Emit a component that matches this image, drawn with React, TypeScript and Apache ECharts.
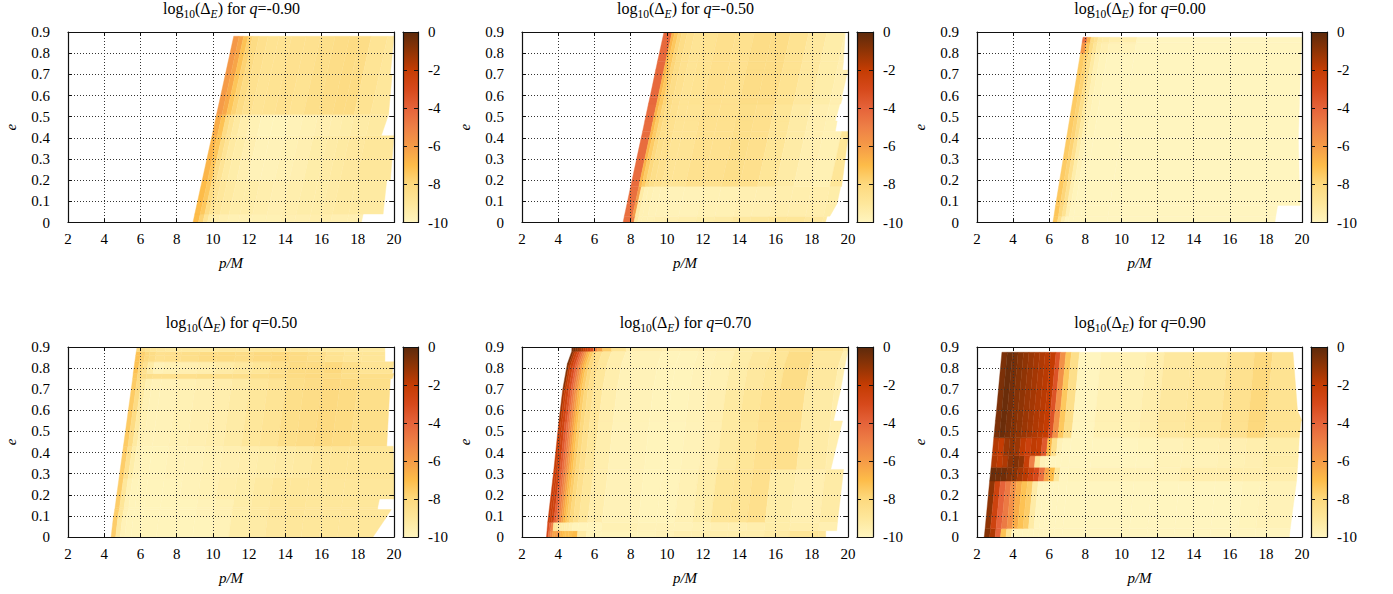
import React, { useEffect, useRef } from "react";
import * as echarts from "echarts";

const FONT = "Liberation Serif";
const paletteStops = ["#FFF5BF", "#FEE79B", "#FDD97E", "#FDBC49", "#F59B47", "#EE8046", "#E5633A", "#D6491B", "#C43C03", "#8F3405", "#5C2A0C"];
const barTicks = [0, 1];

// q = -0.90
const q1Label = "-0.90";
const q1Edges = [0, 0.04, 0.2, 0.41, 0.51, 0.7, 0.88];
const q1Left = [8.9, 9.0, 9.41, 9.95, 10.2, 10.69, 11.15];
const q1Right = [[18.2, 18.3], [19.4, 19.6], [19.8, 20], [19.3, 19.7], [19.7, 19.9], [19.8, 20]];
const q1Offsets = [0, 0.3, 0.55, 0.8, 1.05, 1.4, 1.9, 2.5, 3.2, 4, 4.8, 5.6, 6.4, 7, 7.6, 8.5, 12];
const q1Values = [
  [-7, -7.8, -8.8, -9.4, -9.5, -9.6, -9.7, -9.7, -9.7, -9.7, -9.6, -9.6, -9.5, -9.5, -9.6, -9.6],
  [-7, -7.4, -8.2, -8.7, -9, -9.2, -9.4, -9.4, -9.5, -9.6, -9.5, -9.4, -9.4, -9.3, -9.2, -9.2],
  [-6.8, -7.3, -8.2, -8.8, -9.2, -9.4, -9.6, -9.8, -9.8, -9.7, -9.6, -9.4, -9.3, -9.2, -9.1, -9],
  [-6.5, -7.2, -8.2, -8.8, -9.2, -9.5, -9.7, -9.9, -9.9, -9.8, -9.7, -9.6, -9.5, -9.4, -9.3, -9.2],
  [-6, -6.4, -7.3, -7.8, -8.2, -8.6, -8.8, -8.7, -8.6, -8.7, -8.4, -8.3, -8.2, -8.2, -8.7, -9],
  [-5.9, -6.3, -7.2, -7.8, -8.2, -8.5, -8.7, -8.7, -8.6, -8.6, -8.4, -8.3, -8.2, -8.3, -8.8, -9],
];

// q = -0.50
const q2Label = "-0.50";
const q2Edges = [0, 0.03, 0.09, 0.17, 0.4, 0.43, 0.48, 0.56, 0.59, 0.72, 0.76, 0.9];
const q2Left = [7.58, 7.65, 7.8, 8.0, 8.58, 8.66, 8.78, 8.98, 9.06, 9.38, 9.48, 9.84];
const q2Right = [[18.75, 18.85], [19, 19.4], [19.4, 19.6], [19.65, 20], [20, 20], [19.3, 19.4], [19.3, 19.55], [19.6, 19.7], [19.65, 20], [19.7, 19.75], [19.75, 19.85]];
const q2Offsets = [0, 0.45, 0.6, 0.8, 1, 1.3, 1.7, 2.2, 3, 4, 5, 6, 7, 8, 9, 10, 11, 12.5];
const q2Bottom = [-4.4, -5, -9.2, -9.7, -9.7, -9.7, -9.6, -9.6, -9.5, -9.4, -9.3, -9.1, -9, -8.9, -8.9, -9.1, -9.2];
const q2Low = [-4.4, -6, -9.3, -9.7, -9.7, -9.8, -9.8, -9.8, -9.8, -9.7, -9.7, -9.6, -9.6, -9.5, -9.5, -9.5, -9.4];
const q2Body = [-4.3, -6.8, -7.5, -8, -8.4, -8.6, -8.8, -8.8, -8.6, -8.6, -8.4, -8.5, -8.9, -9.3, -9.6, -9.7, -8.9];
const q2Upper = [-4.2, -6.8, -7.4, -7.9, -8.3, -8.6, -8.8, -8.7, -8.5, -8.6, -8.3, -8.3, -8.7, -9.1, -9.4, -9.6, -9.2];
const q2Values = [q2Bottom, q2Low, q2Low, q2Body, q2Body, q2Body, q2Body, q2Upper, q2Upper, q2Upper, q2Upper];

// q = 0.00
const q3Label = "0.00";
const q3Edges = [0, 0.03, 0.08, 0.2, 0.4, 0.8, 0.85, 0.875];
const q3Left = [6.2, 6.26, 6.35, 6.58, 6.96, 7.73, 7.82, 7.87];
const q3Right = [[18.5, 18.55], [18.55, 18.65], [19.9, 19.9], [19.85, 19.8], [19.8, 19.95], [19.95, 20], [20, 20]];
const q3Offsets = [0, 0.25, 0.45, 0.65, 0.85, 1.1, 1.5, 3, 14];
const q3Values = [
  [-7.4, -8.5, -9.6, -10],
  [-7.3, -8, -8.7, -9.6, -10],
  [-7.4, -7.9, -8.6, -9.6, -9.9, -10],
  [-7.5, -7.8, -8.5, -9.4, -9.8, -10],
  [-7.5, -7.8, -8.4, -9.2, -9.7, -9.9, -10],
  [-5.8, -7.4, -8.2, -8.9, -9.4, -9.6, -9.8, -10],
  [-4.4, -6.6, -8.2, -8.6, -9.2, -9.3, -9.5, -10],
];

// q = 0.50
const q4Label = "0.50";
const q4Edges = [0, 0.09, 0.13, 0.14, 0.18, 0.28, 0.43, 0.75, 0.775, 0.83, 0.86, 0.878, 0.9];
const q4Left = [4.38, 4.5, 4.58, 4.6, 4.66, 4.82, 5.06, 5.57, 5.6, 5.69, 5.74, 5.77, 5.81];
const q4Right = [[18.84, 19.55], [19.55, 19.85], [19.1, 19.1], [19.1, 19.2], [20, 20], [20, 19.95], [19.6, 19.8], [19.9, 20], [19.9, 20], [19.5, 19.5], [19.5, 19.5], [19.5, 19.5]];
const q4Offsets = [0, 0.25, 0.5, 0.75, 1.1, 1.6, 2.5, 3.5, 4.5, 5.5, 6.5, 7.5, 8.5, 9.5, 10.5, 11.5, 12.5, 16];
const q4Bottom = [-7.6, -9.2, -9.8, -9.9, -9.9, -9.9, -9.9, -9.9, -9.9, -9.8, -9.4, -9.3, -9.1, -9, -9, -9];
const q4Low = [-7.6, -8.9, -9.7, -9.9, -9.9, -9.9, -9.9, -9.9, -9.8, -9.7, -9.4, -9.2, -9, -8.9, -9, -9];
const q4Lower = [-7.6, -9, -9.7, -9.9, -9.9, -9.9, -9.9, -9.8, -9.7, -9.5, -9.4, -9.2, -9, -9, -9, -9];
const q4Mid = [-7.6, -8.6, -9.4, -9.8, -9.9, -9.9, -9.8, -9.8, -9.7, -9.6, -9.5, -9.4, -9.3, -9.2, -9, -8.9];
const q4Main = [-7.5, -8.2, -9.2, -9.7, -9.8, -9.8, -9.7, -9.6, -9.5, -9.3, -9, -8.8, -8.4, -8.3, -8.1, -8.2, -8.4];
const q4Band = [-7.4, -8, -8.3, -8.4, -8.5, -8.5, -8.5, -8.4, -8.4, -8.4, -8.4, -8.3, -8.2, -8.1, -8.2, -8.4];
const q4Light = [-7.2, -8, -8.6, -9.3, -9.8, -9.7, -9.6, -9.5, -9.3, -9.1, -8.9, -8.5, -8.2, -8.2, -8, -8.4, -8.8];
const q4Dark = [-7.2, -7.7, -8, -8.3, -8.6, -8.5, -8.4, -8.2, -8.2, -8.3, -8.1, -8, -8.2, -8.4, -8.7, -8.9];
const q4Top = [-8, -8.4, -8.8, -9, -9.1, -9.2, -9.2, -9.2, -9.1, -9.1, -9, -9, -9.1, -9.2];
const q4Values = [q4Bottom, q4Low, q4Low, q4Low, q4Lower, q4Mid, q4Main, q4Band, q4Light, q4Dark, q4Dark, q4Top];

// q = 0.70
const q5Label = "0.70";
const q5Edges = [0, 0.03, 0.07, 0.32, 0.55, 0.7, 0.82, 0.88, 0.9];
const q5Left = [3.35, 3.38, 3.42, 3.76, 4.04, 4.25, 4.5, 4.75, 4.75];
const q5Right = [[18.77, 18.77], [19.65, 19.65], [19.65, 20], [19.05, 19.7], [19.2, 19.6], [19.6, 19.85], [19.85, 20], [20, 20]];
const q5Offsets = [0, 0.1, 0.2, 0.33, 0.45, 0.55, 0.65, 0.75, 0.85, 0.95, 1.05, 1.2, 1.4, 1.7, 2.2, 3, 5, 6, 7, 8, 9, 10, 11, 12, 13.4, 15, 16];
const q5TailA = [-9.8, -9.9, -9.9, -9.7, -9.4, -8.9, -8.8, -8.5, -9.4, -9.6, -9.3];
const q5TailB = [-9.8, -9.9, -9.9, -9.8, -9.6, -9.2, -8.9, -8.6, -8.5, -9.3, -9.5];
const q5TailC = [-9.8, -9.9, -9.9, -9.8, -9.7, -9.4, -9.1, -8.9, -8.3, -9.1, -9.6];
const q5Values = [
  [-3, -4.8, -5.5, -6.3, -6.2, -5.8, -6.3, -6.8, -7, -7.2, -7.2, -7.2, -7, -9.3, -9.9, -9.9, -9.9, -9.8, -9.6, -9.6, -9.5, -9.5, -9.5, -9.3, -8.9, -9],
  [-3, -4, -5, -8.8, -9, -9.2, -9.3, -9.4, -9.4, -9.5, -9.5, -9.7, -9.9, -9.9, -9.9, -9.7, -9.8, -9.8, -9.8, -9.7, -9.6, -9.6, -9.5, -9.4, -9.5, -9.6],
  [-2.4, -2.4, -2.6, -3.8, -4.4, -5, -5.6, -6.2, -6.8, -7.2, -7.6, -8, -8.5, -9, -9.5, ...q5TailA],
  [-2.1, -2.3, -2.6, -3.6, -4.3, -4.9, -5.5, -6.1, -6.7, -7.1, -7.6, -8, -8.5, -9, -9.5, ...q5TailB],
  [-1.4, -2.2, -2.6, -3.4, -4.2, -4.9, -5.5, -6.1, -6.7, -7.1, -7.6, -8, -8.5, -9, -9.5, ...q5TailB],
  [-0.8, -1.9, -2.5, -3.2, -4, -4.7, -5.4, -6, -6.6, -7.1, -7.6, -8, -8.5, -9, -9.5, ...q5TailC],
  [-0.6, -1.6, -2.4, -3, -3.8, -4.5, -5.2, -5.9, -6.5, -7, -7.5, -8, -8.5, -9, -9.5, ...q5TailC],
  [-0.5, -0.6, -0.8, -1.1, -1.4, -1.6, -2, -2.2, -2.5, -2.6, -3, -5.2, -6.2, -7.6, -8.8, -9.5, -9.6, -9.6, -9.5, -9.5, -9.4, -9.4, -8.8, -8.6, -8.7, -9.3],
];

// q = 0.90
const q6Label = "0.90";
const q6Edges = [0, 0.04, 0.265, 0.33, 0.385, 0.47, 0.55, 0.6, 0.875];
const q6Left = [2.4, 2.45, 2.7, 2.78, 2.84, 2.93, 3.02, 3.08, 3.38];
const q6Right = [[19.3, 19.35], [19.35, 19.7], [19.7, 19.75], [19.75, 19.8], [19.8, 19.85], [19.85, 19.95], [20, 19.75], [19.75, 19.5]];
const q6Offsets = [0, 0.3, 0.6, 0.9, 1.2, 1.5, 1.8, 2.1, 2.4, 2.7, 3, 3.25, 3.55, 3.85, 4.3, 5.5, 8, 9, 10.5, 12.5, 14, 15, 18];
const q6Top = [-0.6, -0.3, -0.5, -0.8, -1, -1.2, -1.4, -1.6, -1.8, -2, -3.4, -5.6, -7.4, -8.4, -10, -9.7, -9.5, -9.1, -9, -8.6, -8, -8.7];
const q6Values = [
  [-0.8, -1.6, -4, -7.2, -8.8, -10],
  [-1, -2.5, -4, -4.8, -5.6, -6.5, -7.2, -7.6, -9.3, -10, -10, -10, -10, -10, -10, -10, -10, -10, -10, -10, -9.9, -9.8],
  [-0.3, -0.4, -0.4, -0.7, -0.9, -1.4, -1.8, -2.4, -3, -4.5, -6.3, -7, -9, -10, -9.9, -9.8, -9.8, -9.8, -9.5, -9.5, -9.5, -9.5],
  [-1.6, -1.9, -1.6, -0.9, -0.7, -1, -2.2, -5, -8.8, -9.8, -9.9, -10, -10, -10, -10, -10, -10, -9.8, -9.8, -9.7, -9.6, -9.4],
  [-1.7, -2, -1.2, -1, -1.2, -1.9, -2.4, -1.9, -2.1, -3.6, -6.9, -8.4, -9.8, -10, -10, -10, -9.9, -9.8, -9.7, -9.6, -9.5, -9.4],
  q6Top,
  q6Top,
  q6Top,
];

const panels = [
  { q: q1Label, edges: q1Edges, left: q1Left, right: q1Right, offsets: q1Offsets, values: q1Values },
  { q: q2Label, edges: q2Edges, left: q2Left, right: q2Right, offsets: q2Offsets, values: q2Values },
  { q: q3Label, edges: q3Edges, left: q3Left, right: q3Right, offsets: q3Offsets, values: q3Values },
  { q: q4Label, edges: q4Edges, left: q4Left, right: q4Right, offsets: q4Offsets, values: q4Values },
  { q: q5Label, edges: q5Edges, left: q5Left, right: q5Right, offsets: q5Offsets, values: q5Values },
  { q: q6Label, edges: q6Edges, left: q6Left, right: q6Right, offsets: q6Offsets, values: q6Values },
];

const plotBoxes = [[68, 394], [522, 848], [977, 1302]];
const barBoxes = [[403, 418], [857, 873], [1311, 1327]];
const rowBoxes = [[32, 222.5], [347, 537]];
const titleX = [226.5, 680.5, 1135];
const titleY = [-5, 309];

function colorOf(v: number) {
  return echarts.color.lerp((Math.max(-10, Math.min(0, v)) + 10) / 10, paletteStops);
}

function cellsOf(p: (typeof panels)[number]) {
  const cells: number[][] = [];
  p.values.forEach((vals, r) => {
    const [eLo, eHi] = [p.edges[r], p.edges[r + 1]];
    const [rLo, rHi] = p.right[r];
    for (let c = 0; c < p.offsets.length - 1; c++) {
      const v = vals[Math.min(c, vals.length - 1)];
      const a = Math.min(p.left[r] + p.offsets[c], rLo);
      const b = Math.min(p.left[r] + p.offsets[c + 1], rLo);
      const d = Math.min(p.left[r + 1] + p.offsets[c], rHi);
      const e = Math.min(p.left[r + 1] + p.offsets[c + 1], rHi);
      if (b - a < 1e-6 && e - d < 1e-6) continue;
      cells.push([a, eLo, b, d, e, eHi, v]);
    }
  });
  return cells;
}

function renderCell(_: any, api: any) {
  const pts = [
    api.coord([api.value(0), api.value(1)]),
    api.coord([api.value(2), api.value(1)]),
    api.coord([api.value(4), api.value(5)]),
    api.coord([api.value(3), api.value(5)]),
  ];
  const fill = colorOf(api.value(6));
  return { type: "polygon", shape: { points: pts }, style: { fill, stroke: fill, lineWidth: 0.4 } };
}

const labelStyle = { fontFamily: FONT, fontSize: 15, color: "#000" };
const mirrorLine = { show: true, onZero: false, lineStyle: { color: "#111", width: 1.2 } };
const inTick = { show: true, inside: true, length: 4, lineStyle: { color: "#111", width: 1 } };
const nameStyle = { fontFamily: FONT, fontSize: 15, fontStyle: "italic", color: "#000" };

function buildOption() {
  const grid: any[] = [], xAxis: any[] = [], yAxis: any[] = [], series: any[] = [], title: any[] = [];
  const dotted = { show: true, lineStyle: { color: "#333", width: 1, type: [1, 2] as any } };
  panels.forEach((p, i) => {
    const col = i % 3, row = Math.floor(i / 3);
    const [x0, x1] = plotBoxes[col];
    const [y0, y1] = rowBoxes[row];
    const gi = grid.length;
    grid.push({ left: x0, width: x1 - x0, top: y0, height: y1 - y0 });
    const xi = xAxis.length, yi = yAxis.length;
    xAxis.push({
      gridIndex: gi, type: "value", min: 2, max: 20, interval: 2, position: "bottom", z: 5,
      axisLine: mirrorLine, axisTick: inTick, splitLine: dotted,
      axisLabel: { ...labelStyle, margin: 9 },
      name: "p/M", nameLocation: "middle", nameGap: 33, nameTextStyle: nameStyle,
    });
    xAxis.push({
      gridIndex: gi, type: "value", min: 2, max: 20, interval: 2, position: "top", z: 5,
      axisLine: mirrorLine, axisTick: inTick, splitLine: { show: false }, axisLabel: { show: false },
    });
    yAxis.push({
      gridIndex: gi, type: "value", min: 0, max: 0.9, interval: 0.1, position: "left", z: 5,
      axisLine: mirrorLine, axisTick: inTick, splitLine: dotted,
      axisLabel: { ...labelStyle, margin: 18, formatter: (v: number) => (v === 0 ? "0" : v.toFixed(1)) },
      name: "e", nameLocation: "middle", nameGap: 50, nameTextStyle: nameStyle,
    });
    yAxis.push({
      gridIndex: gi, type: "value", min: 0, max: 0.9, interval: 0.1, position: "right", z: 5,
      axisLine: mirrorLine, axisTick: inTick, splitLine: { show: false }, axisLabel: { show: false },
    });
    series.push({
      type: "custom", xAxisIndex: xi, yAxisIndex: yi, data: cellsOf(p), renderItem: renderCell,
      clip: true, silent: true, animation: false, z: 2,
    });

    // colour bar
    const [bx0, bx1] = barBoxes[col];
    const bg = grid.length;
    grid.push({ left: bx0, width: bx1 - bx0, top: y0, height: y1 - y0 });
    const bxi = xAxis.length, byi = yAxis.length;
    const barX = (position: string) => ({
      gridIndex: bg, type: "value", min: 0, max: 1, position, z: 5,
      axisLine: mirrorLine, axisTick: { show: false }, splitLine: { show: false }, axisLabel: { show: false },
    });
    xAxis.push(barX("bottom"), barX("top"));
    yAxis.push({
      gridIndex: bg, type: "value", min: -10, max: 0, interval: 2, position: "right", z: 5,
      axisLine: mirrorLine, axisTick: inTick, splitLine: { show: false }, axisLabel: { ...labelStyle, margin: 10 },
    });
    yAxis.push({
      gridIndex: bg, type: "value", min: -10, max: 0, interval: 2, position: "left", z: 5,
      axisLine: mirrorLine, axisTick: inTick, splitLine: { show: false }, axisLabel: { show: false },
    });
    series.push({
      type: "custom", xAxisIndex: bxi, yAxisIndex: byi, data: [[barTicks[0], -10, barTicks[1], 0]], silent: true, z: 2,
      renderItem: (_: any, api: any) => {
        const a = api.coord([api.value(0), api.value(3)]);
        const b = api.coord([api.value(2), api.value(1)]);
        return {
          type: "rect",
          shape: { x: a[0], y: a[1], width: b[0] - a[0], height: b[1] - a[1] },
          style: {
            fill: new echarts.graphic.LinearGradient(0, 1, 0, 0,
              paletteStops.map((color, k) => ({ offset: k / (paletteStops.length - 1), color }))),
          },
        };
      },
    });

    const rich = (fontSize: number, fontStyle: string, verticalAlign: string) => ({
      fontFamily: FONT, fontSize, fontStyle, fontWeight: "normal", color: "#000", lineHeight: 20, verticalAlign,
    });
    title.push({
      text: `{a|log}{s|10}{a|(Δ}{si|E}{a|) for }{i|q}{a|=${p.q}}`,
      left: titleX[col], top: titleY[row], textAlign: "center",
      textStyle: {
        fontWeight: "normal",
        rich: {
          a: rich(16, "normal", "top"),
          i: rich(16, "italic", "top"),
          s: rich(11.5, "normal", "bottom"),
          si: rich(11.5, "italic", "bottom"),
        },
      },
    });
  });
  return { animation: false, backgroundColor: "#fff", grid, xAxis, yAxis, series, title };
}

export default function App() {
  const ref = useRef<HTMLDivElement>(null);
  useEffect(() => {
    document.body.style.margin = "0";
    const chart = echarts.init(ref.current!, undefined, { renderer: "svg" });
    chart.setOption(buildOption() as any);
    return () => chart.dispose();
  }, []);
  return <div ref={ref} style={{ width: 1393, height: 594 }} />;
}
